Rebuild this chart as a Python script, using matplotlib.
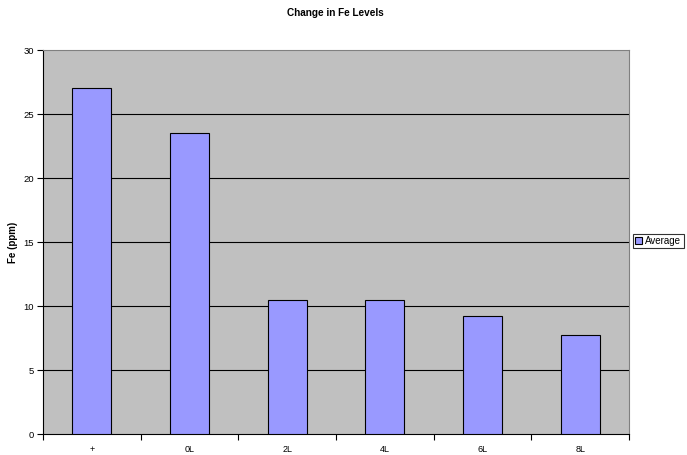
import matplotlib
matplotlib.use("Agg")
import matplotlib.pyplot as plt
import numpy as np

plt.rcParams['font.family'] = ['Liberation Sans', 'DejaVu Sans']

categories = ['+', '0L', '2L', '4L', '6L', '8L']
average = [27, 23.5, 10.5, 10.5, 9.25, 7.75]
yticks = [0, 5, 10, 15, 20, 25, 30]

fig = plt.figure(figsize=(6.87, 4.55), dpi=100)
ax = fig.add_axes([43/687, 1 - 434/455, 586/687, 384/455])
ax.set_facecolor('#C0C0C0')

x = np.arange(len(categories))
ax.bar(x, average, width=0.4, color='#9999FF', edgecolor='black', linewidth=0.8,
       label='Average', zorder=3)

ax.set_xlim(-0.5, len(categories) - 0.5)
ax.set_ylim(0, 30)
ax.set_yticks(yticks)
ax.set_yticklabels([str(v) for v in yticks])
for v in yticks[1:-1]:
    ax.axhline(v, color='black', linewidth=0.8, zorder=1)

# category labels centred, tick marks between categories
ax.set_xticks(x)
ax.set_xticklabels(categories)
ax.tick_params(axis='x', length=0, labelsize=6.5, pad=8)
ax.set_xticks(np.arange(-0.5, len(categories)), minor=True)
ax.tick_params(axis='x', which='minor', length=4, width=0.8, color='black', direction='out')
ax.tick_params(axis='y', length=4, width=0.8, labelsize=6.8, direction='out', pad=2.5)

for side in ['top', 'right']:
    ax.spines[side].set_color('#808080')
    ax.spines[side].set_linewidth(0.8)
for side in ['left', 'bottom']:
    ax.spines[side].set_color('black')
    ax.spines[side].set_linewidth(0.8)

ax.set_ylabel('Fe (ppm)', fontsize=7, fontweight='bold', labelpad=3.5)
fig.text(335/687, 1 - 13/455, 'Change in Fe Levels', ha='center', va='center',
         fontsize=7.2, fontweight='bold')

leg = fig.legend(loc='center left', bbox_to_anchor=(633/687, 1 - 241/455),
                 fontsize=7, frameon=True, fancybox=False, handlelength=0.7,
                 handleheight=0.7, handletextpad=0.3, borderpad=0.25,
                 borderaxespad=0)
leg.get_frame().set_edgecolor('black')
leg.get_frame().set_linewidth(0.8)

fig.savefig('out.png', dpi=100)
